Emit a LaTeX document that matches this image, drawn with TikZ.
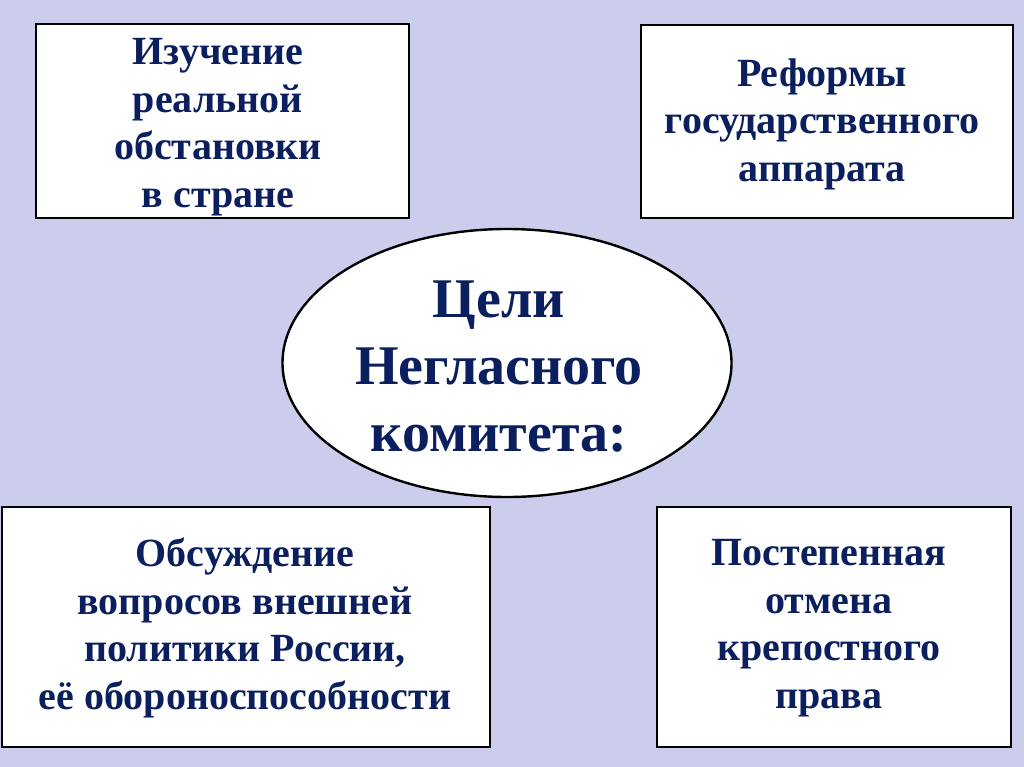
\documentclass[tikz,border=0pt]{standalone}
\usepackage{fontspec}
\setmainfont{Liberation Serif}
\usetikzlibrary{shapes.geometric}
\definecolor{bgc}{HTML}{CCCCEC}
\definecolor{txt}{HTML}{0B1F5E}
\tikzset{
  goalbox/.style={draw=black, line width=2.4pt, fill=white},
  goaltext/.style={text=txt, font=\bfseries\fontsize{40}{47.5}\selectfont, align=center, inner sep=0pt},
  centershape/.style={draw=black, line width=2.4pt, fill=white, ellipse, minimum width=449pt, minimum height=268pt, inner sep=0pt},
  centertext/.style={text=txt, font=\bfseries\fontsize{56}{67}\selectfont, align=center, inner sep=0pt}
}
\begin{document}
\begin{tikzpicture}[x=1pt,y=-1pt]
\fill[bgc] (0,0) rectangle (1024,767);
\useasboundingbox (0,0) rectangle (1024,767);
\draw[goalbox] (36,24) rectangle (409,218);
\draw[goalbox] (641,25) rectangle (1013,218);
\draw[goalbox] (2,507) rectangle (490,747);
\draw[goalbox] (657,507) rectangle (1011,747);
\node[goaltext] (t1) at (218,127) {Изучение\\реальной\\обстановки\\в стране};
\node[goaltext] (t2) at (822,124) {Реформы\\государственного\\аппарата};
\node[goaltext] (t3) at (245,628) {Обсуждение\\вопросов внешней\\политики России,\\её обороноспособности};
\node[goaltext] (t4) at (829,628) {Постепенная\\отмена\\крепостного\\права};
\node[centershape] (c) at (507,363) {};
\node[centertext] (ct) at (499,367) {Цели\\Негласного\\комитета:};
\end{tikzpicture}
\end{document}
